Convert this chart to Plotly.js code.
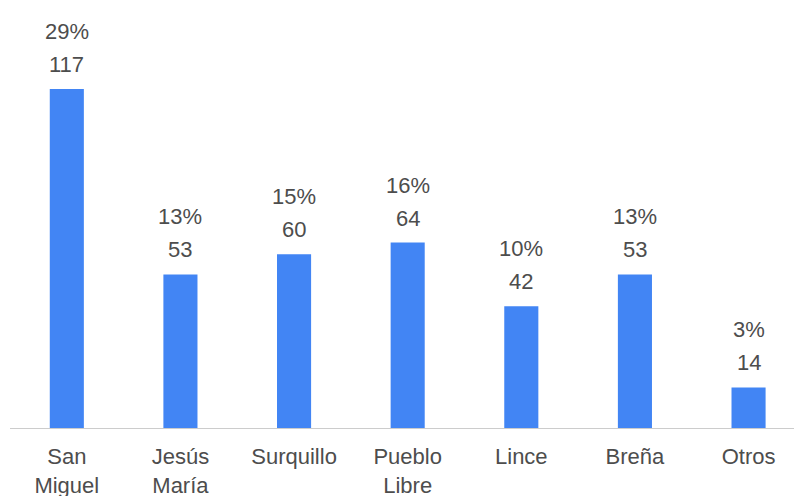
<!DOCTYPE html>
<html>
<head>
<meta charset="utf-8">
<script src="https://cdn.plot.ly/plotly-3.0.1.min.js"></script>
<style>html,body{margin:0;padding:0;background:#fff;}#chart{width:794px;height:496px;}</style>
</head>
<body>
<div id="chart"></div>
<script>
const categories = ["San<br>Miguel", "Jesús<br>María", "Surquillo", "Pueblo<br>Libre", "Lince", "Breña", "Otros"];
const counts = [117, 53, 60, 64, 42, 53, 14];
const percents = ["29%", "13%", "15%", "16%", "10%", "13%", "3%"];

const FONT = "'Liberation Sans', Arial, sans-serif";
const TXT = "#4d4d4d";
const FS = 22;

const annotations = [];
categories.forEach((c, i) => {
  annotations.push({x: i, y: counts[i], xref: 'x', yref: 'y', text: String(counts[i]),
    showarrow: false, yanchor: 'bottom', yshift: 10, font: {family: FONT, size: FS, color: TXT}});
  annotations.push({x: i, y: counts[i], xref: 'x', yref: 'y', text: percents[i],
    showarrow: false, yanchor: 'bottom', yshift: 43, font: {family: FONT, size: FS, color: TXT}});
});

const data = [{
  type: 'bar',
  x: categories.map((c, i) => i),
  y: counts,
  marker: {color: '#4285F4'},
  hoverinfo: 'none'
}];

const layout = {
  width: 794, height: 496,
  margin: {l: 10, r: 0, t: 0, b: 68},
  paper_bgcolor: '#fff', plot_bgcolor: '#fff',
  bargap: 0.7,
  showlegend: false,
  xaxis: {
    range: [-0.5, 6.4],
    tickmode: 'array', tickvals: categories.map((c, i) => i), ticktext: categories,
    showgrid: false, zeroline: false,
    showline: true, linecolor: '#cccccc', linewidth: 1,
    ticks: '', ticklen: 0, ticklabelstandoff: 9,
    tickfont: {family: FONT, size: FS, color: TXT}
  },
  yaxis: {
    range: [0, 147.7], visible: false, showgrid: false, zeroline: false, fixedrange: true
  },
  annotations: annotations
};

Plotly.newPlot('chart', data, layout, {displayModeBar: false, staticPlot: true});
</script>
</body>
</html>
